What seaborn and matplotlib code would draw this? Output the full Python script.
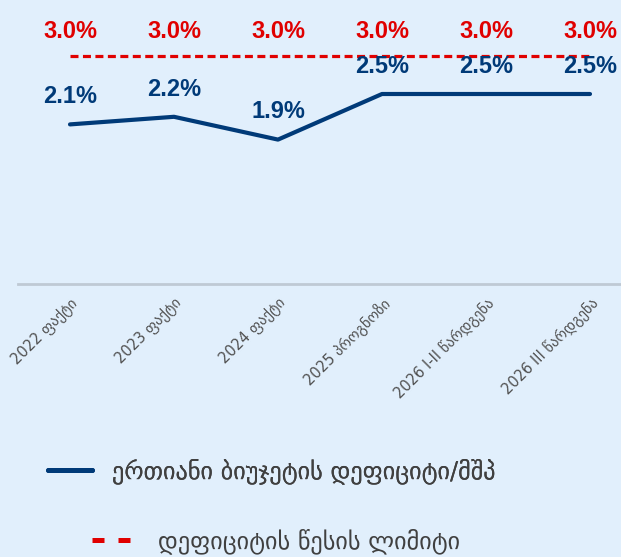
import matplotlib
matplotlib.use("Agg")
import matplotlib.pyplot as plt
from matplotlib.lines import Line2D
import seaborn as sns
import pandas as pd

# data
categories = ["2022 ფაქტი", "2023 ფაქტი", "2024 ფაქტი", "2025 პროგნოზი",
              "2026 I-II წარდგენა", "2026 III წარდგენა"]
deficit = [2.1, 2.2, 1.9, 2.5, 2.5, 2.5]
rule_limit = [3.0, 3.0, 3.0, 3.0, 3.0, 3.0]
deficit_name = "ერთიანი ბიუჯეტის დეფიციტი/მშპ"
limit_name = "დეფიციტის წესის ლიმიტი"

df = pd.DataFrame({"cat": categories, "deficit": deficit, "limit": rule_limit})

bg = "#E1EFFC"
blue = "#003A78"
red = "#E00000"
num_font = ["Liberation Sans", "DejaVu Sans"]

sns.set_style("white")
plt.rcParams["font.family"] = ["DejaVu Sans"]

fig = plt.figure(figsize=(6.21, 5.57), dpi=100)
fig.patch.set_facecolor(bg)
ax = fig.add_axes([18 / 621, 1 - 284 / 557, 624 / 621, 284 / 557])
ax.set_facecolor(bg)

sns.lineplot(data=df, x="cat", y="limit", ax=ax, color=red, lw=2.3,
             linestyle=(0, (2.5, 1.4)), sort=False, legend=False)
sns.lineplot(data=df, x="cat", y="deficit", ax=ax, color=blue, lw=3,
             sort=False, legend=False)

for i, (d, l) in enumerate(zip(deficit, rule_limit)):
    ax.annotate(f"{d:.1f}%", (i, d), xytext=(0, 20), textcoords="offset points",
                ha="center", va="center", color=blue, fontsize=17,
                fontweight="bold", family=num_font)
    ax.annotate(f"{l:.1f}%", (i, l), xytext=(0, 18), textcoords="offset points",
                ha="center", va="center", color=red, fontsize=17,
                fontweight="bold", family=num_font)

ax.set_xlim(-0.5, 5.5)
ax.set_ylim(0, 284 / 76)
ax.set_xlabel("")
ax.set_ylabel("")
ax.set_yticks([])
for s in ["top", "left", "right"]:
    ax.spines[s].set_visible(False)
ax.spines["bottom"].set_color("#BFC9D4")
ax.spines["bottom"].set_linewidth(2)
ax.tick_params(axis="x", length=0, pad=8, labelsize=10.5, labelcolor="#505050")
plt.setp(ax.get_xticklabels(), rotation=45, ha="right", rotation_mode="anchor")

# legend, laid out like the original: one centred row per entry
def_h = Line2D([], [], color=blue, lw=3.6)
lim_h = Line2D([], [], color=red, lw=3.6, linestyle=(0, (2.4, 2.8)))

leg_kw = dict(loc="center left", frameon=False, fontsize=17.5, borderpad=0,
              borderaxespad=0, labelcolor="#404040")
leg1 = fig.legend([def_h], [deficit_name], bbox_to_anchor=(48 / 621, 1 - 471 / 557),
                  handlelength=1.8, handletextpad=0.82, **leg_kw)
leg2 = fig.legend([lim_h], [limit_name], bbox_to_anchor=(92 / 621, 1 - 541 / 557),
                  handlelength=1.56, handletextpad=1.15, **leg_kw)
fig.add_artist(leg1)

fig.savefig("out.png", dpi=100, facecolor=bg)
